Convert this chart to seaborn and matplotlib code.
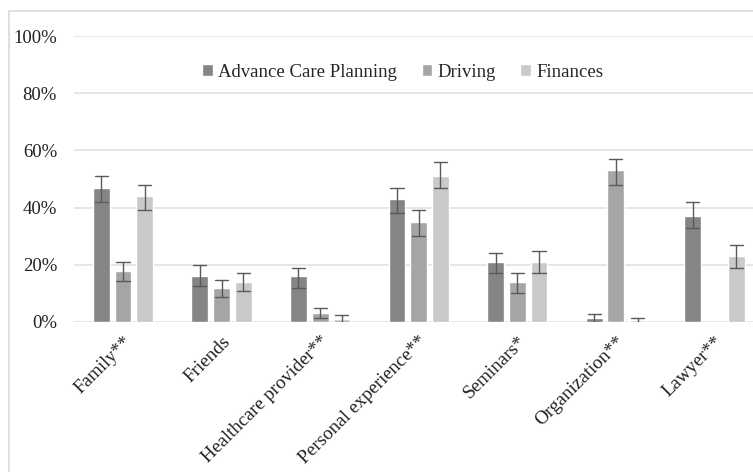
import matplotlib
matplotlib.use("Agg")
import matplotlib.pyplot as plt
import numpy as np
import pandas as pd
import seaborn as sns
from matplotlib.patches import Patch, Rectangle
from matplotlib.ticker import PercentFormatter

CATEGORIES = ["Family**", "Friends", "Healthcare provider**", "Personal experience**",
              "Seminars*", "Organization**", "Lawyer**"]
SERIES = ["Advance Care Planning", "Driving", "Finances"]

# value, lower error end, upper error end (percent)
ACP_VAL = [47, 16, 16, 43, 21, 1.5, 37]
ACP_LO = [42, 12.7, 12, 38, 17, 0, 32.7]
ACP_HI = [51, 20, 19, 47, 24, 2.8, 42]

DRV_VAL = [18, 12, 3.2, 35, 14, 53, np.nan]
DRV_LO = [14.3, 8.7, 1.4, 30, 10, 48, np.nan]
DRV_HI = [21, 14.8, 4.8, 39, 17, 57, np.nan]

FIN_VAL = [44, 14, 1, 51, 21, 0.3, 23]
FIN_LO = [39, 11, 0, 47, 17, 0, 18.8]
FIN_HI = [48, 17, 2.3, 56, 24.7, 1.5, 27]

PALETTE = {"Advance Care Planning": "#858585", "Driving": "#a5a5a5", "Finances": "#c9c9c9"}


def build_frame():
    rows = []
    for name, vals, los, his in [
        (SERIES[0], ACP_VAL, ACP_LO, ACP_HI),
        (SERIES[1], DRV_VAL, DRV_LO, DRV_HI),
        (SERIES[2], FIN_VAL, FIN_LO, FIN_HI),
    ]:
        for cat, v, lo, hi in zip(CATEGORIES, vals, los, his):
            for y in (lo, v, hi):
                rows.append({"category": cat, "series": name, "value": y})
    return pd.DataFrame(rows)


def main():
    df = build_frame()
    sns.set_theme(style="white")
    plt.rcParams["font.family"] = ["Liberation Serif", "DejaVu Serif"]

    fig = plt.figure(figsize=(7.53, 4.72), dpi=100)
    ax = fig.add_axes([0.0979, 0.3178, 0.9163, 0.6059])

    sns.barplot(
        data=df, x="category", y="value", hue="series",
        order=CATEGORIES, hue_order=SERIES, palette=PALETTE,
        estimator="median", errorbar=lambda v: (v.min(), v.max()),
        width=0.66, gap=0.22, capsize=0.4,
        err_kws={"linewidth": 1.0, "color": "#5a5a5a", "zorder": 5},
        saturation=1, ax=ax, legend=False, zorder=3,
    )

    ax.set_ylim(0, 100)
    ax.set_yticks(range(0, 101, 20))
    ax.yaxis.set_major_formatter(PercentFormatter(decimals=0))
    ax.grid(axis="y", color="#e2e2e2", linewidth=1.2, zorder=0)
    ax.set_axisbelow(True)
    for s in ax.spines.values():
        s.set_visible(False)
    ax.set_xlabel("")
    ax.set_ylabel("")
    ax.tick_params(axis="y", labelsize=13.5, pad=12, length=0, colors="#222222")
    ax.tick_params(axis="x", labelsize=13.8, pad=8, length=0, colors="#222222")
    plt.setp(ax.get_xticklabels(), rotation=45, ha="right", rotation_mode="anchor")

    handles = [Patch(facecolor=PALETTE[s], label=s) for s in SERIES]
    fig.legend(
        handles=handles, loc="center", bbox_to_anchor=(0.535, 0.847), ncol=3,
        frameon=False, fontsize=13.5, handlelength=0.55, handleheight=0.55,
        handletextpad=0.3, columnspacing=1.3,
    )

    fig.patches.append(Rectangle((9 / 753, -0.1), 1.2, 1.1 - 11 / 472,
                                 transform=fig.transFigure, fill=False,
                                 edgecolor="#d9d9d9", linewidth=1.2))

    fig.savefig("out.png", dpi=100)
    plt.close(fig)


if __name__ == "__main__":
    main()
